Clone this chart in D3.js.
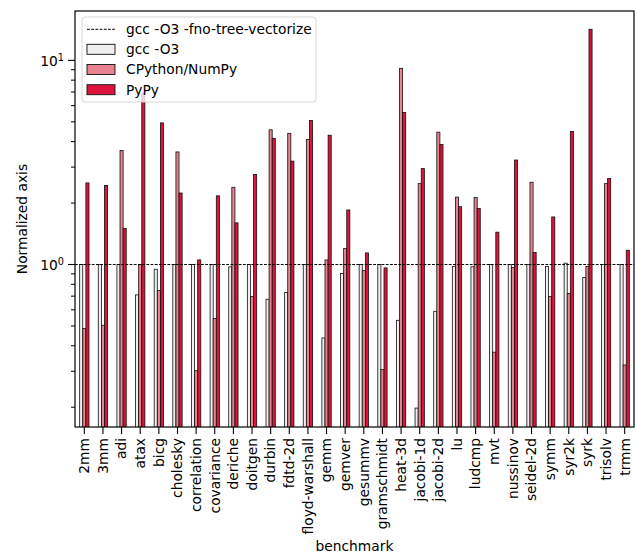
<!DOCTYPE html>
<html><head><meta charset="utf-8">
<script src="https://cdn.jsdelivr.net/npm/d3@7"></script>
<style>body{margin:0;background:#fff}svg{display:block}text{font-family:"DejaVu Sans",sans-serif;fill:#000}</style>
</head><body><svg id="c" width="636" height="556"></svg>
<script>
const categories = ["2mm","3mm","adi","atax","bicg","cholesky","correlation","covariance","deriche","doitgen","durbin","fdtd-2d","floyd-warshall","gemm","gemver","gesummv","gramschmidt","heat-3d","jacobi-1d","jacobi-2d","lu","ludcmp","mvt","nussinov","seidel-2d","symm","syr2k","syrk","trisolv","trmm"];
const seriesNames = ["gcc -O3","CPython/NumPy","PyPy"];
const gccO3 = [1.0,1.0,1.0,0.71,0.948,1.0,1.0,1.0,0.974,1.0,0.676,0.729,1.0,0.437,0.903,1.0,1.0,0.533,0.198,0.59,0.978,0.975,1.0,1.0,1.0,0.978,1.015,0.863,1.0,1.0];
const cpython = [0.486,0.504,3.62,1.0,0.745,3.56,0.302,0.544,2.39,0.697,4.57,4.39,4.10,1.053,1.198,0.934,0.306,9.14,2.49,4.45,2.14,2.13,0.372,0.967,2.53,0.697,0.721,0.978,2.49,0.322];
const pypy = [2.51,2.44,1.50,6.9,4.94,2.24,1.053,2.17,1.60,2.76,4.15,3.21,5.08,4.30,1.85,1.14,0.963,5.56,2.95,3.87,1.92,1.88,1.44,3.25,1.145,1.71,4.49,14.2,2.64,1.175];
const baselineName = "gcc -O3 -fno-tree-vectorize";
const baselineValue = 1;
const yDomain = [0.16, 17.45];
const colors = ["#efefef","#e7838f","#dc143c"];

const svg = d3.select("#c");
const L = 75, R = 634, T = 11, B = 427;
const x = d3.scaleBand().domain(categories).range([L, R]).padding(0);
const y = d3.scaleLog().domain(yDomain).range([B, T]);
const bw = x.bandwidth();
const sub = d3.scaleBand().domain(seriesNames).range([-bw*0.25, bw*0.25]);
const vals = [gccO3, cpython, pypy];

svg.append("defs").append("clipPath").attr("id","clip")
  .append("rect").attr("x",L).attr("y",T).attr("width",R-L).attr("height",B-T);

const g = svg.append("g").attr("clip-path","url(#clip)");
seriesNames.forEach((s, si) => {
  g.selectAll(null).data(categories).enter().append("rect")
    .attr("x", c => x(c) + bw/2 + sub(s))
    .attr("width", sub.bandwidth())
    .attr("y", (c, i) => y(vals[si][i]))
    .attr("height", (c, i) => B + 5 - y(vals[si][i]))
    .attr("fill", colors[si])
    .attr("stroke", "#111").attr("stroke-width", 0.8);
});
g.append("line").attr("x1",L).attr("x2",R).attr("y1",y(baselineValue)).attr("y2",y(baselineValue))
  .attr("stroke","#000").attr("stroke-width",1).attr("stroke-dasharray","2.8,1.4");

// axes
const ax = svg.append("g").attr("stroke","#000");
ax.append("rect").attr("x",L).attr("y",T).attr("width",R-L).attr("height",B-T)
  .attr("fill","none").attr("stroke-width",1.2);
// x ticks
categories.forEach(c => {
  const cx = x(c) + bw/2;
  ax.append("line").attr("x1",cx).attr("x2",cx).attr("y1",B).attr("y2",B+7).attr("stroke-width",1.1);
  svg.append("text").attr("transform",`translate(${cx},${B+11}) rotate(-90)`)
    .attr("text-anchor","end").attr("dy","0.35em").attr("font-size","13.8px").text(c);
});
// y ticks
const majors = [1, 10];
const minors = [];
[0.1, 1, 10].forEach(d => { for (let k = 2; k <= 9; k++) { const v = d*k; if (v >= yDomain[0] && v <= yDomain[1]) minors.push(v); } });
minors.forEach(v => ax.append("line").attr("x1",L-4).attr("x2",L).attr("y1",y(v)).attr("y2",y(v)).attr("stroke-width",1));
majors.forEach(v => {
  ax.append("line").attr("x1",L-7).attr("x2",L).attr("y1",y(v)).attr("y2",y(v)).attr("stroke-width",1.1);
  const t = svg.append("text").attr("x", L-11).attr("y", y(v)).attr("dy","0.4em")
    .attr("text-anchor","end").attr("font-size","13.8px");
  t.append("tspan").text("10");
  t.append("tspan").attr("dy","-0.55em").attr("font-size","9.7px").text(String(Math.round(Math.log10(v))));
});
svg.append("text").attr("transform",`translate(22,${(T+B)/2}) rotate(-90)`)
  .attr("text-anchor","middle").attr("dy","0.35em").attr("font-size","13.8px").text("Normalized axis");
svg.append("text").attr("x",(L+R)/2).attr("y",546).attr("text-anchor","middle").attr("dy","0.35em")
  .attr("font-size","13.8px").text("benchmark");

// legend
const lg = svg.append("g");
lg.append("rect").attr("x",82).attr("y",17).attr("width",234).attr("height",85).attr("rx",3)
  .attr("fill","#fff").attr("fill-opacity",0.8).attr("stroke","#d6d6d6").attr("stroke-width",1);
const rowY = [29.3, 49.3, 69.5, 89.7];
lg.append("line").attr("x1",87).attr("x2",115).attr("y1",rowY[0]).attr("y2",rowY[0])
  .attr("stroke","#000").attr("stroke-width",1).attr("stroke-dasharray","2.8,1.4");
lg.append("text").attr("x",126).attr("y",rowY[0]).attr("dy","0.35em").attr("font-size","13.8px").text(baselineName);
seriesNames.forEach((s, i) => {
  lg.append("rect").attr("x",87).attr("y",rowY[i+1]-5).attr("width",28).attr("height",10)
    .attr("fill",colors[i]).attr("stroke","#111").attr("stroke-width",0.9);
  lg.append("text").attr("x",126).attr("y",rowY[i+1]).attr("dy","0.35em").attr("font-size","13.8px").text(s);
});
</script></body></html>
